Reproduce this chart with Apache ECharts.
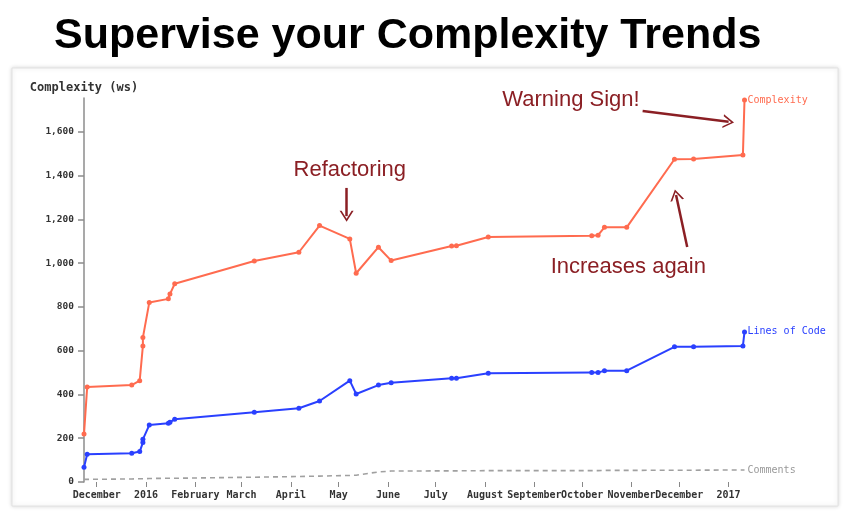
<!DOCTYPE html>
<html>
<head>
<meta charset="utf-8">
<script src="https://cdn.jsdelivr.net/npm/echarts@6/dist/echarts.min.js"></script>
<style>
html,body{margin:0;padding:0;background:#fff;}
#chart{width:848px;height:530px;}
</style>
</head>
<body>
<div id="chart"></div>
<script>
// ---- data ----
const dates = ['2015-11-23','2015-11-25','2015-12-23','2015-12-28','2015-12-30','2015-12-30','2016-01-03','2016-01-15','2016-01-16','2016-01-19','2016-03-09','2016-04-06','2016-04-19','2016-05-08','2016-05-12','2016-05-26','2016-06-03','2016-07-11','2016-07-14','2016-08-03','2016-10-07','2016-10-11','2016-10-15','2016-10-29','2016-11-28','2016-12-10','2017-01-10','2017-01-11'];
const complexity = [219,434,443,463,622,660,820,837,859,906,1010,1050,1172,1111,954,1073,1012,1079,1080,1120,1126,1128,1164,1164,1475,1476,1495,1746];
const linesOfCode = [67,127,131,139,180,195,260,268,273,287,319,337,370,463,402,443,454,474,474,497,500,500,509,509,618,618,622,686];
const comments = [12,12,14,15,15,15,16,17,17,17,22,25,27,30,31,46,50,51,51,52,52,52,53,53,54,54,55,55];

const tickDates = ['2015-12-01','2016-01-01','2016-02-01','2016-03-01','2016-04-01','2016-05-01','2016-06-01','2016-07-01','2016-08-01','2016-09-01','2016-10-01','2016-11-01','2016-12-01','2017-01-01'];
const tickLabels = ['December','2016','February','March','April','May','June','July','August','September','October','November','December','2017'];
const yTicks = [0,200,400,600,800,1000,1200,1400,1600];

// annotations (in data space)
const annotTexts = [
  {text:'Refactoring', date:'2016-05-08', value:1426},
  {text:'Warning Sign!', date:'2016-09-24', value:1746},
  {text:'Increases again', date:'2016-10-30', value:983}
];
const annotArrows = [
  {from:['2016-05-06',1344], to:['2016-05-06',1215]},
  {from:['2016-11-08',1696], to:['2017-01-01',1646]},
  {from:['2016-12-06',1074], to:['2016-11-29',1312]}
];

// ---- helpers ----
const t = s => new Date(s + 'T00:00:00').getTime();
const tickTimes = tickDates.map(t);
const mono = 'DejaVu Sans Mono';
const C_RED = '#ff6b4f', C_BLUE = '#2a40ff', C_GRAY = '#a0a0a0', C_ANN = '#8b1f24';

const series = [
  {name:'Complexity', values:complexity, color:C_RED},
  {name:'Lines of Code', values:linesOfCode, color:C_BLUE}
].map(s => ({
  name:s.name, type:'line', data:dates.map((d,i)=>[t(d), s.values[i]]),
  symbol:'circle', symbolSize:5, showSymbol:true,
  lineStyle:{color:s.color, width:2}, itemStyle:{color:s.color},
  endLabel:{show:true, formatter:'{a}', color:s.color, fontFamily:mono, fontSize:10, distance:3},
  silent:true, z:3
}));
series.push({
  name:'Comments', type:'line', data:dates.map((d,i)=>[t(d), comments[i]]),
  symbol:'none', showSymbol:false,
  lineStyle:{color:C_GRAY, width:1.6, type:[5,4]},
  endLabel:{show:true, formatter:'{a}', color:'#999', fontFamily:mono, fontSize:10, distance:3},
  silent:true, z:2
});
series.push({
  name:'annotations', type:'line', data:[], silent:true, z:5,
  markPoint:{
    symbol:'rect', symbolSize:1, itemStyle:{color:'rgba(0,0,0,0)'},
    label:{show:true, position:'inside', formatter:'{b}', color:C_ANN, fontSize:22, fontFamily:'Liberation Sans'},
    data:annotTexts.map(a=>({name:a.text, coord:[t(a.date), a.value]}))
  },
  markLine:{
    silent:true, animation:false,
    symbol:['none','path://M0,10 L5,0 L10,10 L8.6,10 L5,2.6 L1.4,10 Z'],
    symbolSize:[14,11],
    lineStyle:{color:C_ANN, width:2.5, type:'solid'},
    label:{show:false},
    data:annotArrows.map(a=>[{coord:[t(a.from[0]), a.from[1]]},{coord:[t(a.to[0]), a.to[1]]}])
  }
});

const chart = echarts.init(document.getElementById('chart'), null, {renderer:'canvas'});
chart.setOption({
  animation:false,
  backgroundColor:'#fff',
  title:{
    text:'Supervise your Complexity Trends', left:49, top:10,
    textStyle:{fontFamily:'Liberation Sans', fontSize:43, fontWeight:'bold', color:'#000'}
  },
  graphic:[{
    type:'rect', z:-10, silent:true,
    shape:{x:12, y:68, width:826, height:438},
    style:{fill:'#fff', stroke:'#e2e2e2', lineWidth:1, shadowBlur:4, shadowColor:'rgba(0,0,0,0.15)'}
  }],
  grid:{left:84, right:103.5, top:98, bottom:48, containLabel:false},
  xAxis:{
    type:'value', min:t(dates[0]), max:t(dates[dates.length-1]),
    axisLine:{show:false},
    axisTick:{show:true, length:5, lineStyle:{color:'#888', width:1}, customValues:tickTimes},
    splitLine:{show:false},
    axisLabel:{
      customValues:tickTimes, margin:8, color:'#333', fontFamily:mono, fontSize:10, fontWeight:'bold',
      formatter:(v)=>{
        let best=-1, bd=Infinity;
        tickTimes.forEach((tt,i)=>{const d=Math.abs(tt-v); if(d<bd){bd=d; best=i;}});
        return bd < 86400000*2 ? tickLabels[best] : '';
      }
    }
  },
  yAxis:{
    type:'value', min:0, max:1755, interval:200,
    name:'Complexity (ws)', nameLocation:'end', nameGap:4,
    nameTextStyle:{color:'#333', fontFamily:mono, fontSize:12, fontWeight:'bold'},
    axisLine:{show:true, lineStyle:{color:'#8c8c8c', width:1.5}},
    axisTick:{show:true, length:6, lineStyle:{color:'#8c8c8c', width:1.5}},
    splitLine:{show:false},
    axisLabel:{
      color:'#333', fontFamily:mono, fontSize:9.5, fontWeight:'bold', margin:10, showMaxLabel:false,
      formatter:v=> yTicks.indexOf(v) >= 0 ? v.toLocaleString('en-US') : ''
    }
  },
  series:series
});
</script>
</body>
</html>
